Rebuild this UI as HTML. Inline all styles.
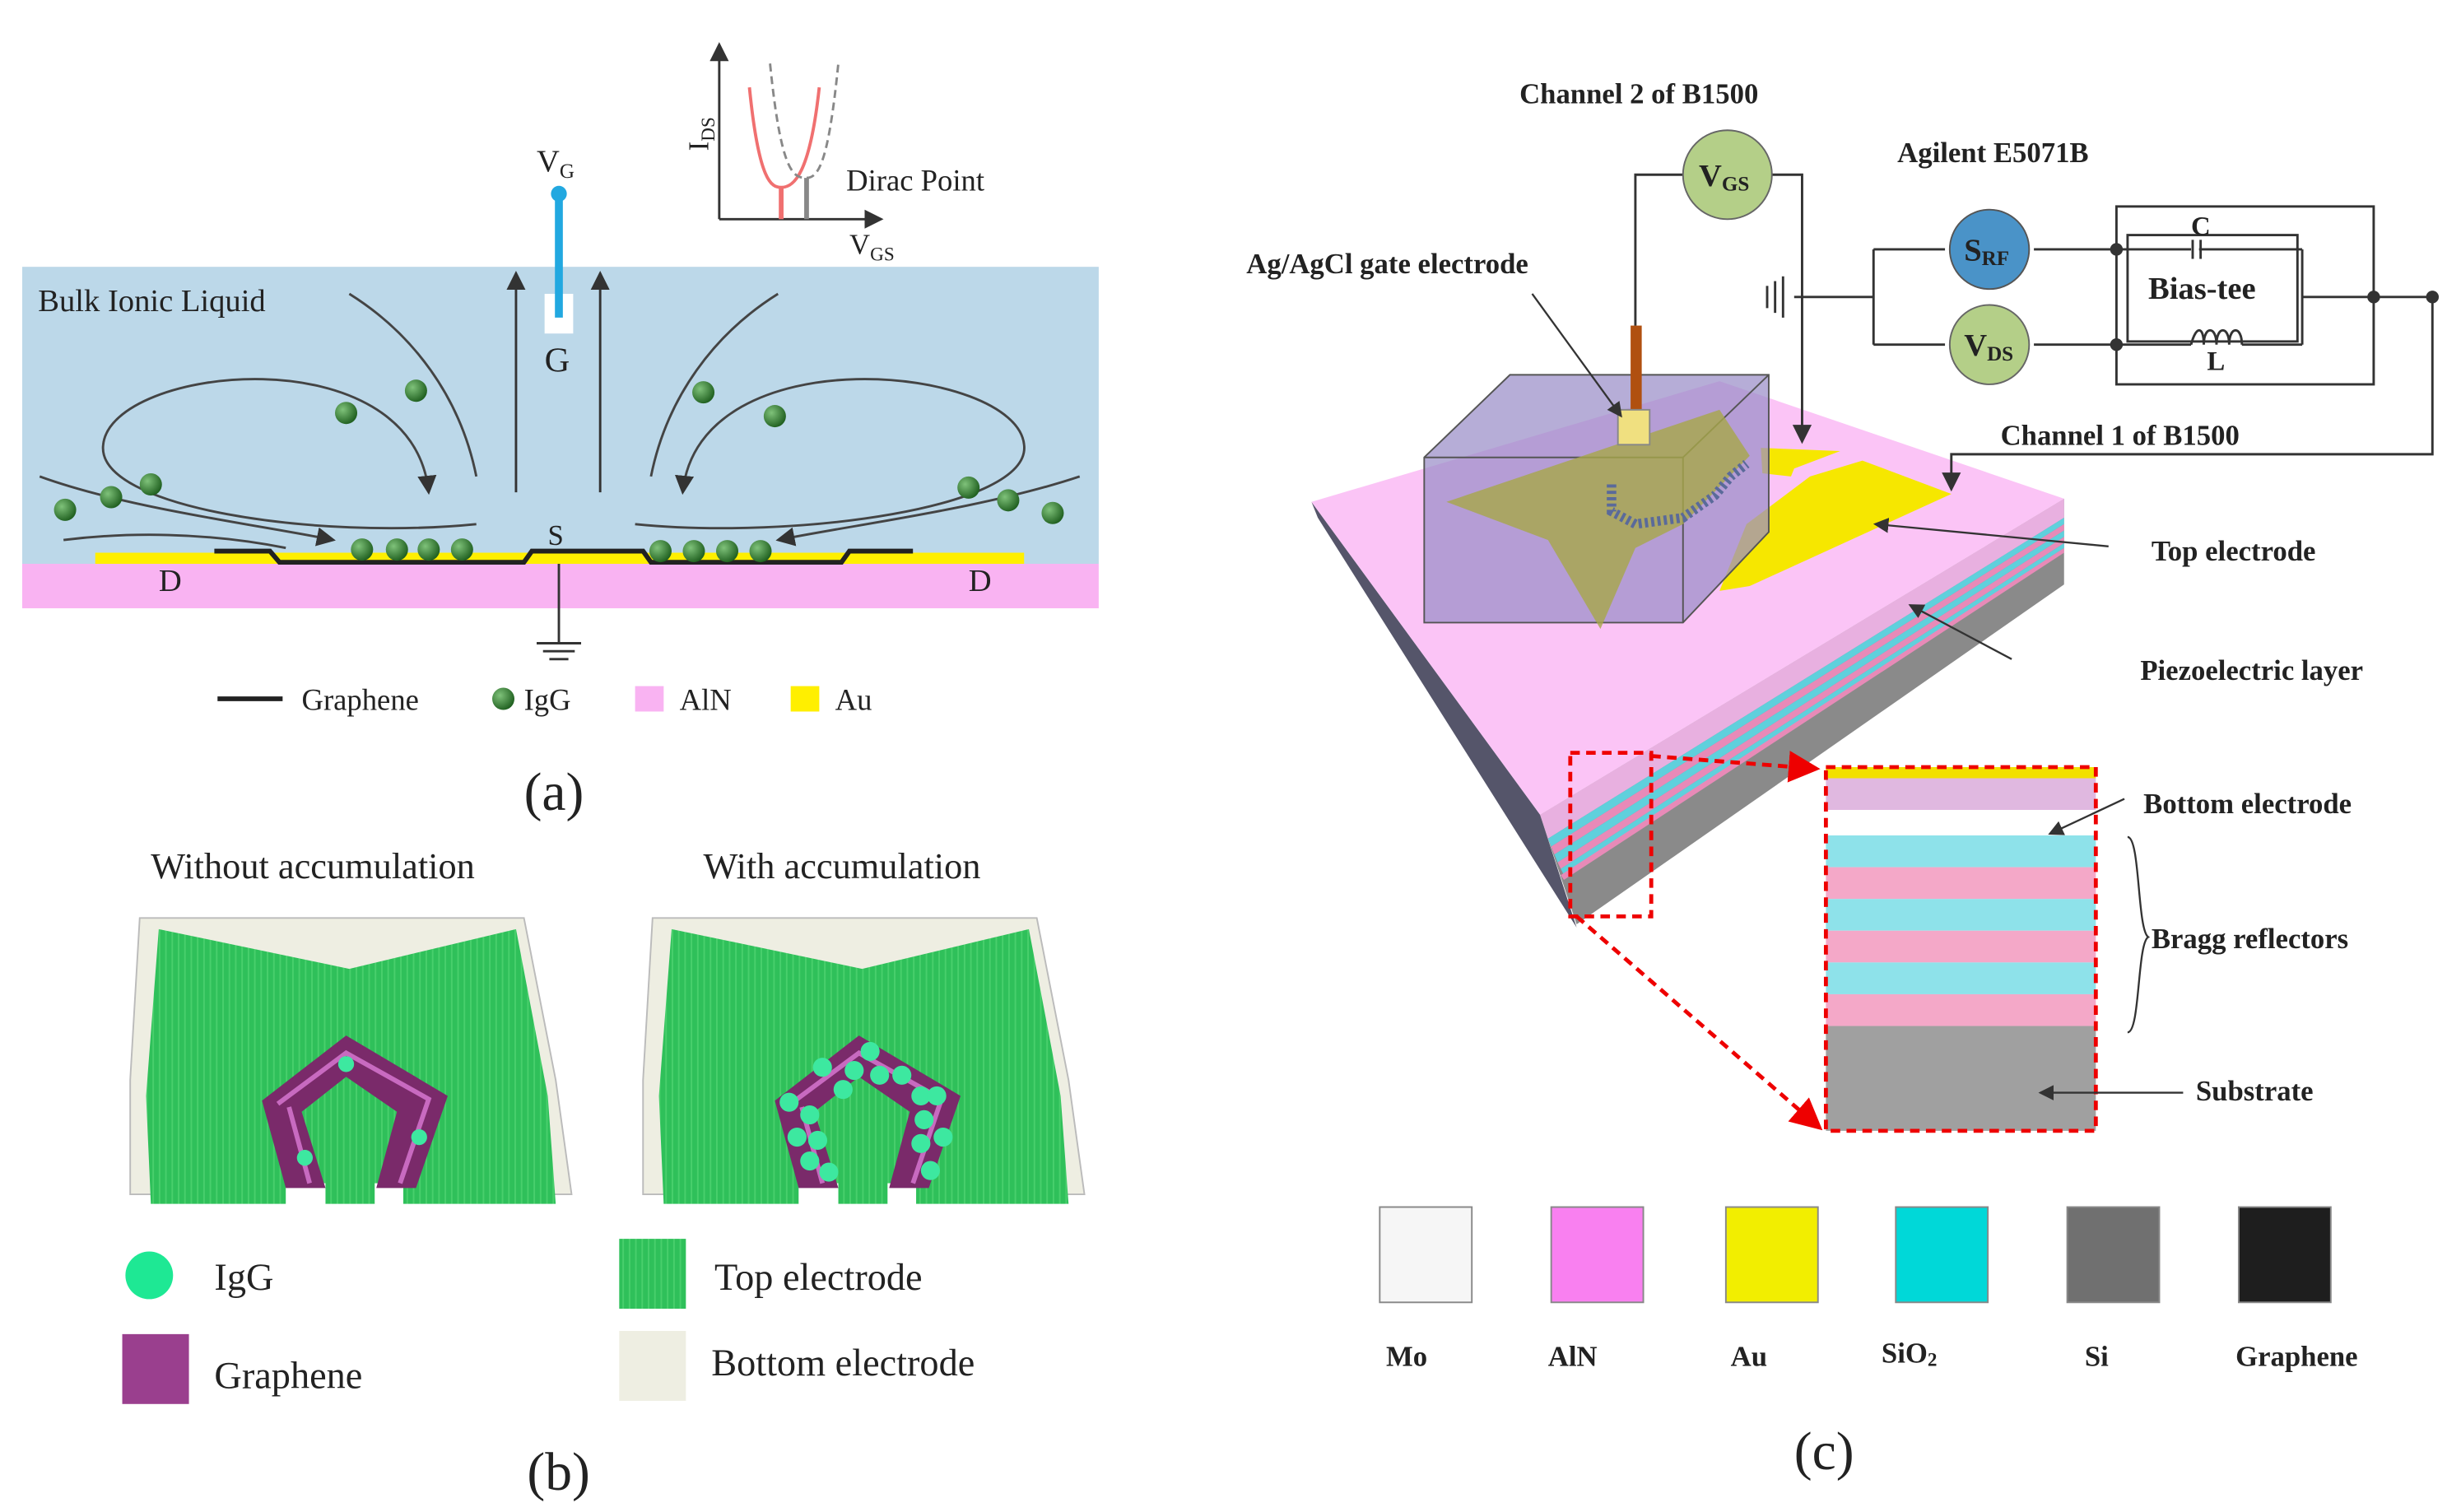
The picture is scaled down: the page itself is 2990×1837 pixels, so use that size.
<!DOCTYPE html>
<html><head><meta charset="utf-8"><style>
html,body{margin:0;padding:0;background:#fff;}
svg{display:block;}
text{font-family:"Liberation Serif",serif;fill:#222;}
</style></head><body>
<svg width="2990" height="1837" viewBox="0 0 1550 952" preserveAspectRatio="none" xmlns="http://www.w3.org/2000/svg">
<defs>
<marker id="ar" markerWidth="8" markerHeight="8" refX="7" refY="4" orient="auto"><path d="M0,0 L8,4 L0,8 z" fill="#333"/></marker>
<marker id="rr" markerWidth="8" markerHeight="8" refX="7" refY="4" orient="auto"><path d="M0,0 L8,4 L0,8 z" fill="#e00"/></marker>
<radialGradient id="ball" cx="0.35" cy="0.35" r="0.7"><stop offset="0" stop-color="#7fc27a"/><stop offset="1" stop-color="#1e5e1e"/></radialGradient>
<pattern id="grn" width="4" height="4" patternUnits="userSpaceOnUse"><rect width="4" height="4" fill="#2fc05a"/><rect width="1" height="4" fill="#48cf6c"/></pattern>
</defs>

<!-- Panel (a) -->
<rect x="14" y="168" width="678" height="187" fill="#bcd8e9"/>
<rect x="14" y="355" width="678" height="28" fill="#f9b3f2"/>
<rect x="60" y="348" width="585" height="7" fill="#ffef00"/>
<path d="M135,347 L170,347 L176,354 L330,354 L335,347 L405,347 L410,354 L530,354 L535,347 L575,347" fill="none" stroke="#222" stroke-width="3"/>
<text x="24" y="196" font-size="20">Bulk Ionic Liquid</text>
<text x="100" y="372" font-size="20">D</text>
<text x="610" y="372" font-size="20">D</text>
<text x="345" y="343" font-size="18">S</text>
<line x1="352" y1="355" x2="352" y2="405" stroke="#333" stroke-width="1.5"/>
<line x1="338" y1="405" x2="366" y2="405" stroke="#333" stroke-width="1.5"/>
<line x1="342" y1="410" x2="362" y2="410" stroke="#333" stroke-width="1.5"/>
<line x1="346" y1="415" x2="358" y2="415" stroke="#333" stroke-width="1.5"/>
<rect x="343" y="185" width="18" height="25" fill="#fff"/>
<text x="343" y="234" font-size="22">G</text>
<line x1="352" y1="122" x2="352" y2="200" stroke="#22a8e0" stroke-width="5"/>
<circle cx="352" cy="122" r="5" fill="#22a8e0"/>
<text x="338" y="108" font-size="20">V<tspan font-size="13" dy="4">G</tspan></text>
<line x1="325" y1="310" x2="325" y2="172" stroke="#333" stroke-width="1.5" marker-end="url(#ar)"/>
<line x1="378" y1="310" x2="378" y2="172" stroke="#333" stroke-width="1.5" marker-end="url(#ar)"/>
<g fill="none" stroke="#444" stroke-width="1.5">
<path d="M300,330 C200,340 60,320 65,280 C70,230 260,210 270,310" marker-end="url(#ar)"/>
<path d="M400,330 C500,340 650,320 645,280 C640,230 440,210 430,310" marker-end="url(#ar)"/>
<path d="M300,300 C290,250 260,210 220,185"/>
<path d="M410,300 C420,250 450,210 490,185"/>
<path d="M25,300 C80,320 160,330 210,340" marker-end="url(#ar)"/>
<path d="M680,300 C620,320 540,330 490,340" marker-end="url(#ar)"/>
<path d="M40,340 C80,335 130,335 180,345"/>
</g>
<g fill="url(#ball)">
<circle cx="41" cy="321" r="7"/><circle cx="70" cy="313" r="7"/><circle cx="95" cy="305" r="7"/>
<circle cx="218" cy="260" r="7"/><circle cx="262" cy="246" r="7"/>
<circle cx="228" cy="346" r="7"/><circle cx="250" cy="346" r="7"/><circle cx="270" cy="346" r="7"/><circle cx="291" cy="346" r="7"/>
<circle cx="416" cy="347" r="7"/><circle cx="437" cy="347" r="7"/><circle cx="458" cy="347" r="7"/><circle cx="479" cy="347" r="7"/>
<circle cx="443" cy="247" r="7"/><circle cx="488" cy="262" r="7"/>
<circle cx="610" cy="307" r="7"/><circle cx="635" cy="315" r="7"/><circle cx="663" cy="323" r="7"/>
</g>
<line x1="453" y1="138" x2="453" y2="28" stroke="#333" stroke-width="1.5" marker-end="url(#ar)"/>
<line x1="453" y1="138" x2="555" y2="138" stroke="#333" stroke-width="1.5" marker-end="url(#ar)"/>
<path d="M472,55 C478,115 486,118 492,118 C500,118 510,110 516,55" fill="none" stroke="#f07070" stroke-width="2"/>
<path d="M485,40 C492,110 500,112 508,112 C516,112 522,100 528,40" fill="none" stroke="#888" stroke-width="1.5" stroke-dasharray="5,3"/>
<line x1="492" y1="118" x2="492" y2="138" stroke="#f07070" stroke-width="3"/>
<line x1="508" y1="112" x2="508" y2="138" stroke="#888" stroke-width="3"/>
<text x="533" y="120" font-size="19">Dirac Point</text>
<text x="535" y="160" font-size="18">V<tspan font-size="12" dy="4">GS</tspan></text>
<text x="0" y="0" font-size="18" transform="translate(446,95) rotate(-90)">I<tspan font-size="12" dy="4">DS</tspan></text>
<line x1="137" y1="440" x2="178" y2="440" stroke="#222" stroke-width="3"/>
<text x="190" y="447" font-size="19">Graphene</text>
<circle cx="317" cy="440" r="7" fill="url(#ball)"/>
<text x="330" y="447" font-size="19">IgG</text>
<rect x="400" y="432" width="18" height="16" fill="#f9b3f2"/>
<text x="428" y="447" font-size="19">AlN</text>
<rect x="498" y="432" width="18" height="16" fill="#ffef00"/>
<text x="526" y="447" font-size="19">Au</text>
<text x="330" y="510" font-size="34">(a)</text>

<!-- Panel (b) -->
<text x="95" y="553" font-size="23">Without accumulation</text>
<text x="443" y="553" font-size="23">With accumulation</text>
<g id="dev">
<path d="M88,578 L330,578 L350,680 L360,752 L82,752 L82,680 Z" fill="#eeeee2" stroke="#bbb"/>
<path d="M100,585 L220,610 L325,585 L345,690 L350,758 L95,758 L92,690 Z" fill="url(#grn)"/>
<rect x="180" y="745" width="25" height="15" fill="#fff"/><rect x="236" y="745" width="18" height="15" fill="#fff"/>
<path d="M165,693 L218,652 L282,690 L262,748 L237,748 L250,700 L218,678 L190,700 L205,748 L180,748 Z" fill="#7a2a6a"/>
<path d="M175,695 L218,663 L270,692 L252,745 M195,745 L182,697" fill="none" stroke="#c86ac0" stroke-width="3"/>
</g>
<use href="#dev" transform="translate(323,0)"/>
<g fill="#3de8a0">
<circle cx="218" cy="670" r="5"/><circle cx="264" cy="716" r="5"/><circle cx="192" cy="729" r="5"/>
<circle cx="497" cy="694" r="6"/><circle cx="510" cy="702" r="6"/><circle cx="518" cy="672" r="6"/><circle cx="531" cy="686" r="6"/><circle cx="538" cy="674" r="6"/><circle cx="548" cy="662" r="6"/><circle cx="554" cy="677" r="6"/><circle cx="568" cy="677" r="6"/><circle cx="580" cy="690" r="6"/><circle cx="590" cy="690" r="6"/><circle cx="502" cy="716" r="6"/><circle cx="515" cy="718" r="6"/><circle cx="510" cy="731" r="6"/><circle cx="522" cy="738" r="6"/><circle cx="582" cy="705" r="6"/><circle cx="594" cy="716" r="6"/><circle cx="580" cy="720" r="6"/><circle cx="586" cy="737" r="6"/>
</g>
<circle cx="94" cy="803" r="15" fill="#1ee894"/>
<text x="135" y="812" font-size="24">IgG</text>
<rect x="77" y="840" width="42" height="44" fill="#9a3f8e"/>
<text x="135" y="874" font-size="24">Graphene</text>
<rect x="390" y="780" width="42" height="44" fill="url(#grn)"/>
<text x="450" y="812" font-size="24">Top electrode</text>
<rect x="390" y="838" width="42" height="44" fill="#eeeee2"/>
<text x="448" y="866" font-size="24">Bottom  electrode</text>
<text x="332" y="938" font-size="34">(b)</text>

<!-- Panel (c) slab -->
<polygon points="826,316 830,326 993,584 970,513" fill="#55556a"/>
<polygon points="970,513 1300,314 1300,368 993,582" fill="#8a8a8a"/>
<polygon points="970,513 1300,314 1300,326 975,528" fill="#e8b0e0"/>
<polygon points="975,528 1300,326 1300,330 977,533" fill="#5fd0dc"/>
<polygon points="977,533 1300,330 1300,334 979,538" fill="#e88ab8"/>
<polygon points="979,538 1300,334 1300,338 981,543" fill="#5fd0dc"/>
<polygon points="981,543 1300,338 1300,342 983,547" fill="#e88ab8"/>
<polygon points="983,547 1300,342 1300,345 985,551" fill="#5fd0dc"/>
<polygon points="983,551 1300,345 1300,348 985,554" fill="#e88ab8"/>
<polygon points="826,316 1083,240 1300,314 970,513" fill="#fbc4f6"/>
<!-- electrodes -->
<polygon points="1109,282 1159,284 1130,295 1128,300 1110,298" fill="#f6e700"/>
<polygon points="1173,290 1229,311 1102,369 1083,372 1100,330 1140,300" fill="#f6e700"/>
<!-- box -->
<polygon points="897,288 951,236 1114,236 1114,335 1060,392 897,392" fill="#9a8ec8" fill-opacity="0.72" stroke="#555"/>
<line x1="897" y1="288" x2="1060" y2="288" stroke="#555"/><line x1="1060" y1="288" x2="1060" y2="392" stroke="#555"/><line x1="1060" y1="288" x2="1114" y2="236" stroke="#555"/>
<polygon points="911,316 1083,258 1102,287 1060,330 1030,345 1008,396 975,340" fill="#a8a848" fill-opacity="0.8"/>
<path d="M1015,305 L1015,322 L1030,330 L1060,326 L1080,312 L1090,300 L1100,292" fill="none" stroke="#5a6a9a" stroke-width="6" stroke-dasharray="2,2"/>
<rect x="1027" y="205" width="7" height="55" fill="#b05010"/>
<rect x="1019" y="258" width="20" height="22" fill="#f0e080" stroke="#888"/>
<!-- red zoom -->
<rect x="989" y="474" width="51" height="103" fill="none" stroke="#e00" stroke-width="2.5" stroke-dasharray="6,4"/>
<line x1="1040" y1="476" x2="1144" y2="484" stroke="#e00" stroke-width="2.5" stroke-dasharray="6,4" marker-end="url(#rr)"/>
<line x1="993" y1="577" x2="1146" y2="710" stroke="#e00" stroke-width="2.5" stroke-dasharray="6,4" marker-end="url(#rr)"/>
<rect x="1150" y="483" width="170" height="7" fill="#f2e000"/>
<rect x="1150" y="490" width="170" height="20" fill="#e0b8e0"/>
<rect x="1150" y="510" width="170" height="16" fill="#fff"/>
<rect x="1150" y="526" width="170" height="20" fill="#8ee2ea"/>
<rect x="1150" y="546" width="170" height="20" fill="#f4a8c8"/>
<rect x="1150" y="566" width="170" height="20" fill="#8ee2ea"/>
<rect x="1150" y="586" width="170" height="20" fill="#f4a8c8"/>
<rect x="1150" y="606" width="170" height="20" fill="#8ee2ea"/>
<rect x="1150" y="626" width="170" height="20" fill="#f4a8c8"/>
<rect x="1150" y="646" width="170" height="66" fill="#a0a0a0"/>
<rect x="1150" y="483" width="170" height="229" fill="none" stroke="#e00" stroke-width="2.5" stroke-dasharray="6,4"/>
<!-- callouts -->
<g stroke="#333" stroke-width="1.2" fill="none">
<line x1="1328" y1="344" x2="1181" y2="330" marker-end="url(#ar)"/>
<line x1="1267" y1="415" x2="1203" y2="381" marker-end="url(#ar)"/>
<line x1="1338" y1="503" x2="1291" y2="525" marker-end="url(#ar)"/>
<line x1="1375" y1="688" x2="1285" y2="688" marker-end="url(#ar)"/>
<line x1="965" y1="185" x2="1021" y2="262" marker-end="url(#ar)"/>
<path d="M1340,527 C1348,527 1346,585 1353,590 C1346,594 1348,650 1340,650"/>
</g>
<g font-weight="bold" font-size="18">
<text x="957" y="65">Channel 2 of B1500</text>
<text x="1195" y="102">Agilent E5071B</text>
<text x="785" y="172">Ag/AgCl gate electrode</text>
<text x="1260" y="280">Channel 1 of B1500</text>
<text x="1355" y="353">Top electrode</text>
<text x="1348" y="428">Piezoelectric  layer</text>
<text x="1350" y="512">Bottom electrode</text>
<text x="1355" y="597">Bragg reflectors</text>
<text x="1383" y="693">Substrate</text>
</g>
<!-- circuit -->
<g stroke="#333" stroke-width="1.5" fill="none">
<polyline points="1060,110 1030,110 1030,205"/>
<polyline points="1116,110 1135,110 1135,278" marker-end="url(#ar)"/>
<polyline points="1180,157 1225,157"/>
<polyline points="1180,217 1225,217"/>
<line x1="1180" y1="157" x2="1180" y2="217"/>
<line x1="1130" y1="187" x2="1180" y2="187"/>
<line x1="1281" y1="157" x2="1380" y2="157"/><line x1="1385" y1="157" x2="1450" y2="157"/>
<line x1="1281" y1="217" x2="1380" y2="217"/><line x1="1412" y1="217" x2="1450" y2="217"/>
<path d="M1380,217 c3,-12 8,-12 8,0 c0,-12 8,-12 8,0 c0,-12 8,-12 8,0 c0,-12 8,-12 8,0"/>
<line x1="1450" y1="157" x2="1450" y2="217"/>
<line x1="1450" y1="187" x2="1532" y2="187"/>
<polyline points="1532,187 1532,286 1229,286 1229,308" marker-end="url(#ar)"/>
<rect x="1333" y="130" width="162" height="112"/>
<rect x="1340" y="148" width="107" height="67"/>
<line x1="1381" y1="151" x2="1381" y2="163"/><line x1="1386" y1="151" x2="1386" y2="163"/>
<line x1="1113" y1="180" x2="1113" y2="194"/><line x1="1118" y1="177" x2="1118" y2="197"/><line x1="1123" y1="174" x2="1123" y2="200"/>
</g>
<g fill="#333"><circle cx="1333" cy="157" r="4"/><circle cx="1333" cy="217" r="4"/><circle cx="1495" cy="187" r="4"/><circle cx="1532" cy="187" r="4"/></g>
<circle cx="1088" cy="110" r="28" fill="#b4cf88" stroke="#666"/>
<circle cx="1253" cy="157" r="25" fill="#4a93c8" stroke="#555"/>
<circle cx="1253" cy="217" r="25" fill="#b4cf88" stroke="#666"/>
<g font-weight="bold" font-size="20">
<text x="1070" y="117">V<tspan font-size="13" dy="3">GS</tspan></text>
<text x="1237" y="164">S<tspan font-size="13" dy="3">RF</tspan></text>
<text x="1237" y="224">V<tspan font-size="13" dy="3">DS</tspan></text>
<text x="1353" y="188">Bias-tee</text>
<text x="1380" y="148" font-size="17">C</text>
<text x="1390" y="233" font-size="17">L</text>
</g>
<g stroke="#888">
<rect x="869" y="760" width="58" height="60" fill="#f6f6f6"/>
<rect x="977" y="760" width="58" height="60" fill="#f980f0"/>
<rect x="1087" y="760" width="58" height="60" fill="#f2ee00"/>
<rect x="1194" y="760" width="58" height="60" fill="#00d8d8"/>
<rect x="1302" y="760" width="58" height="60" fill="#707070"/>
<rect x="1410" y="760" width="58" height="60" fill="#1e1e1e"/>
</g>
<g font-weight="bold" font-size="18">
<text x="873" y="860">Mo</text>
<text x="975" y="860">AlN</text>
<text x="1090" y="860">Au</text>
<text x="1185" y="858">SiO<tspan font-size="12" dy="2">2</tspan></text>
<text x="1313" y="860">Si</text>
<text x="1408" y="860">Graphene</text>
</g>
<text x="1130" y="925" font-size="34">(c)</text>
</svg>
</body></html>
